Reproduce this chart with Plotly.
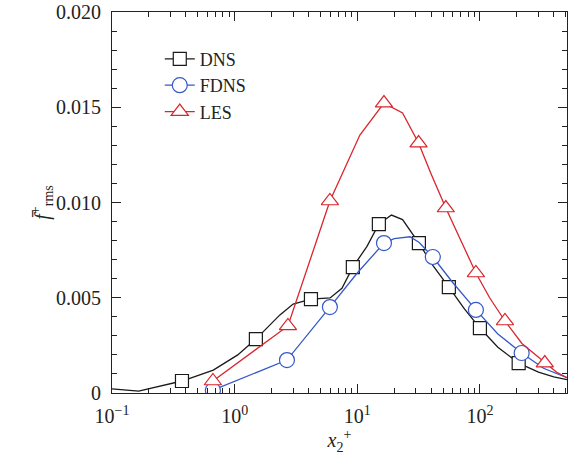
import plotly.graph_objects as go

# ---- data ----
dns_line_x = [0.1, 0.165, 0.372, 0.67, 1.06, 1.49, 2.34, 3.0, 4.19, 6.0, 7.5, 9.2, 12, 15, 19, 23.4, 31.8, 41.3, 55.8, 75, 100, 140, 207, 300, 400, 513]
dns_line_y = [0.00022, 0.0001, 0.00063, 0.0012, 0.0020, 0.00283, 0.0041, 0.00467, 0.00493, 0.00499, 0.0055, 0.00661, 0.0077, 0.00887, 0.00934, 0.0091, 0.00787, 0.0067, 0.00556, 0.0044, 0.00341, 0.0024, 0.00157, 0.0011, 0.00085, 0.0007]
dns_mark_x = [0.372, 1.49, 4.19, 9.2, 15.0, 31.8, 55.8, 100, 207]
dns_mark_y = [0.00063, 0.00283, 0.00493, 0.00661, 0.00887, 0.00787, 0.00556, 0.00341, 0.00157]

fdns_line_x = [0.665, 2.67, 5.98, 8, 10, 16.5, 20, 26.9, 32, 41.3, 60, 92.7, 140, 219, 330, 513]
fdns_line_y = [0.00015, 0.00173, 0.00451, 0.0055, 0.0063, 0.00787, 0.0081, 0.0082, 0.0079, 0.00714, 0.0058, 0.00436, 0.0031, 0.0021, 0.0013, 0.0008]
fdns_mark_x = [0.665, 2.67, 5.98, 16.5, 41.3, 92.7, 219]
fdns_mark_y = [0.00015, 0.00173, 0.00451, 0.00787, 0.00714, 0.00436, 0.0021]

les_line_x = [0.665, 2.72, 5.98, 10.5, 16.5, 19.1, 23.4, 31.6, 40, 52.7, 70, 92.7, 120, 160, 220, 338, 420, 513]
les_line_y = [0.00063, 0.00352, 0.01008, 0.01354, 0.01522, 0.0150, 0.0147, 0.01312, 0.0115, 0.00971, 0.0080, 0.0063, 0.0050, 0.00378, 0.0026, 0.00157, 0.0011, 0.0008]
les_mark_x = [0.665, 2.72, 5.98, 16.5, 31.6, 52.7, 92.7, 160, 338]
les_mark_y = [0.00063, 0.00352, 0.01008, 0.01522, 0.01312, 0.00971, 0.0063, 0.00378, 0.00157]

x_tickvals = [0.1, 1, 10, 100]
x_ticktext = ["10<sup>\u22121</sup>", "10<sup>0</sup>", "10<sup>1</sup>", "10<sup>2</sup>"]
x_minorvals = [m * d for d in (0.1, 1, 10, 100) for m in range(2, 10)]
y_tickvals = [0, 0.005, 0.010, 0.015, 0.020]
y_ticktext = ["0", "0.005", "0.010", "0.015", "0.020"]

names = ["DNS", "FDNS", "LES"]
colors = ["#1a1a1a", "#3558c8", "#d8262c"]
symbols = ["square", "circle", "triangle-up"]
msizes = [13, 15, 15]

FONT = "Liberation Serif"
TXT = "#222"

fig = go.Figure()
series = [
    (dns_line_x, dns_line_y, dns_mark_x, dns_mark_y),
    (fdns_line_x, fdns_line_y, fdns_mark_x, fdns_mark_y),
    (les_line_x, les_line_y, les_mark_x, les_mark_y),
]
for i, (lx, ly, mx, my) in enumerate(series):
    mk = dict(symbol=symbols[i], size=msizes[i], color="white",
              line=dict(color=colors[i], width=1.2))
    fig.add_trace(go.Scatter(x=lx, y=ly, mode="lines",
                             line=dict(color=colors[i], width=1.3),
                             showlegend=False, hoverinfo="skip"))
    fig.add_trace(go.Scatter(x=mx, y=my, mode="markers", marker=mk, showlegend=False))
    fig.add_trace(go.Scatter(x=[None], y=[None], mode="lines+markers", name=names[i],
                             line=dict(color=colors[i], width=1.3), marker=mk))

axis_common = dict(showline=True, linecolor=TXT, linewidth=1.2, mirror="allticks",
                   ticks="inside", tickcolor=TXT, showgrid=False, zeroline=False,
                   automargin=False, ticklen=9, tickwidth=1.2,
                   tickfont=dict(family=FONT, size=20, color=TXT))

fig.update_xaxes(type="log", range=[-1, 2.71], tickmode="array",
                 tickvals=x_tickvals, ticktext=x_ticktext, ticklabelstandoff=5,
                 minor=dict(ticks="inside", ticklen=5, tickmode="array", tickvals=x_minorvals,
                            tickcolor=TXT, showgrid=False),
                 title=dict(text="<i>x</i><sub>2</sub><sup>+</sup>",
                            font=dict(family=FONT, size=20, color=TXT), standoff=0),
                 **axis_common)
fig.update_yaxes(range=[0, 0.020], tickmode="array", tickvals=y_tickvals, ticktext=y_ticktext,
                 ticklabelstandoff=6,
                 minor=dict(ticks="inside", ticklen=5, dtick=0.001, tickcolor=TXT, showgrid=False),
                 title=dict(text="<i>f\u0304</i><sup>+</sup><sub>rms</sub>",
                            font=dict(family=FONT, size=20, color=TXT), standoff=0),
                 **axis_common)

fig.update_layout(
    width=568, height=461,
    margin=dict(l=112, r=1, t=12, b=68),
    paper_bgcolor="white", plot_bgcolor="white",
    font=dict(family=FONT, size=20, color=TXT),
    legend=dict(x=0.105, y=0.925, xanchor="left", yanchor="top",
                bgcolor="rgba(0,0,0,0)", font=dict(family=FONT, size=18, color=TXT),
                tracegroupgap=0),
    showlegend=True,
)

fig.write_html("out.html", config={"displayModeBar": False},
               post_script="document.body.style.margin='0';document.body.style.overflow='hidden';")
